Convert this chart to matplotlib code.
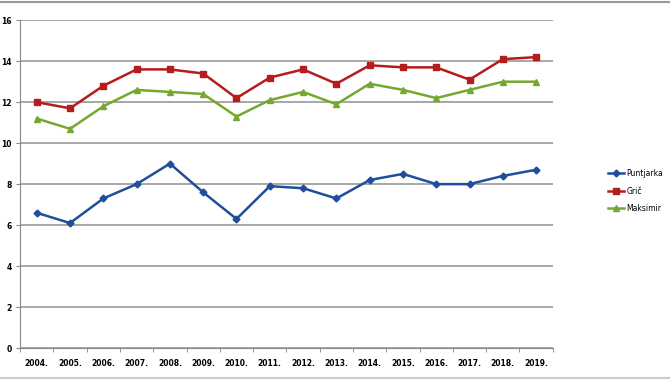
import matplotlib
matplotlib.use("Agg")
import matplotlib.pyplot as plt
import numpy as np

years = ["2004.", "2005.", "2006.", "2007.", "2008.", "2009.", "2010.", "2011.",
         "2012.", "2013.", "2014.", "2015.", "2016.", "2017.", "2018.", "2019."]
puntjarka = [6.6, 6.1, 7.3, 8.0, 9.0, 7.6, 6.3, 7.9, 7.8, 7.3, 8.2, 8.5, 8.0, 8.0, 8.4, 8.7]
gric = [12.0, 11.7, 12.8, 13.6, 13.6, 13.4, 12.2, 13.2, 13.6, 12.9, 13.8, 13.7, 13.7, 13.1, 14.1, 14.2]
maksimir = [11.2, 10.7, 11.8, 12.6, 12.5, 12.4, 11.3, 12.1, 12.5, 11.9, 12.9, 12.6, 12.2, 12.6, 13.0, 13.0]

fig = plt.figure(figsize=(6.7, 3.82), dpi=100)
ax = fig.add_axes([0.03, 0.089, 0.795, 0.858])

x = np.arange(len(years))
ax.plot(x, puntjarka, color="#1f4e9c", lw=1.8, marker="D", ms=3.5, label="Puntjarka")
ax.plot(x, gric, color="#b51c1c", lw=1.8, marker="s", ms=5, label="Grič")
ax.plot(x, maksimir, color="#76a830", lw=1.8, marker="^", ms=5, label="Maksimir")

ax.set_xlim(-0.5, len(years) - 0.5)
ax.set_ylim(0, 16)
ax.set_yticks(range(0, 17, 2))
ax.yaxis.grid(True, color="#a0a0a0", lw=1.3)
ax.set_axisbelow(True)
ax.set_xticks(x)
ax.set_xticklabels(years, fontsize=5.5, fontweight="bold")
ax.set_xticks(np.arange(-0.5, len(years)), minor=True)
ax.tick_params(axis="x", which="major", length=0, pad=8)
ax.tick_params(axis="x", which="minor", length=3, color="#888888")
ax.tick_params(axis="y", labelsize=5.5, length=3, color="#888888", pad=3)
for lab in ax.get_yticklabels():
    lab.set_fontweight("bold")
for s in ["top", "right"]:
    ax.spines[s].set_visible(False)
for s in ["left", "bottom"]:
    ax.spines[s].set_color("#888888")

ax.legend(loc="center left", bbox_to_anchor=(1.09, 0.479), frameon=False,
          fontsize=5.5, handlelength=2.2, labelspacing=1.1, handletextpad=0.3)

fig.add_artist(plt.Line2D([0, 1], [0.995, 0.995], color="#999999", lw=1.5))
fig.add_artist(plt.Line2D([0, 1], [0.01, 0.01], color="#cccccc", lw=1.5))

fig.savefig("out.png", dpi=100)
